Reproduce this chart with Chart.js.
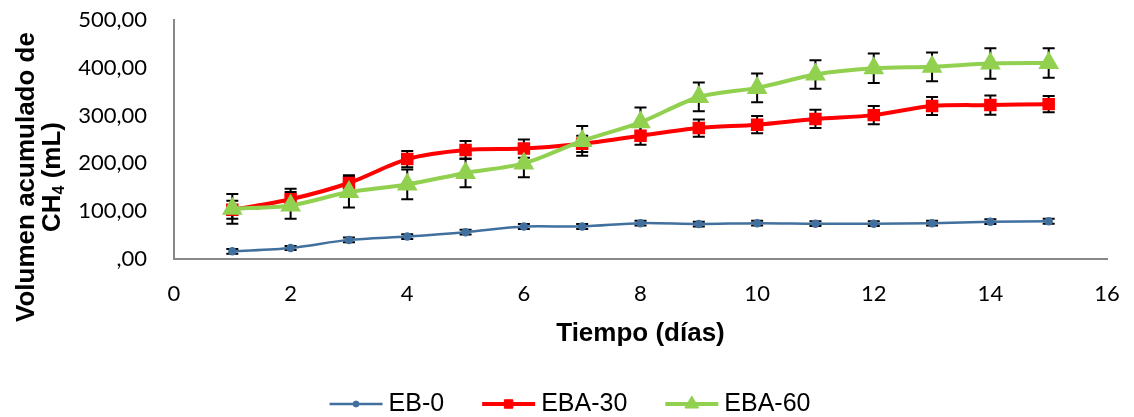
<!DOCTYPE html>
<html>
<head>
<meta charset="utf-8">
<script src="https://cdn.jsdelivr.net/npm/chart.js"></script>
<style>
  html, body { margin: 0; padding: 0; background: #fff; }
  #wrap { width: 1134px; height: 417px; }
</style>
</head>
<body>
<div id="wrap"><canvas id="chart"></canvas></div>
<script>
// data
const days = [1, 2, 3, 4, 5, 6, 7, 8, 9, 10, 11, 12, 13, 14, 15];
const eb0 = [16, 23, 40, 47, 56, 68, 68, 75, 73, 75, 74, 74, 75, 78, 79];
const eb0Err = [5, 4, 5, 5, 5, 5, 5, 5, 5, 5, 5, 5, 5, 5, 5];
const eba30 = [103, 125, 159, 209, 228, 231, 241, 258, 274, 281, 293, 301, 320, 322, 324];
const eba30Err = [19, 22, 16, 17, 19, 19, 17, 19, 18, 18, 19, 19, 19, 20, 17];
const eba60 = [105, 112, 140, 156, 180, 200, 247, 286, 339, 358, 386, 399, 402, 409, 410];
const eba60Err = [31, 28, 32, 31, 30, 29, 31, 31, 30, 30, 30, 31, 30, 32, 31];
const yTickLabels = [',00', '100,00', '200,00', '300,00', '400,00', '500,00'];

const pts = vals => vals.map((v, i) => ({ x: days[i], y: v }));

// error bars, drawn under the lines
const errorBars = {
  id: 'errorBars',
  beforeDatasetsDraw(chart) {
    const { ctx, scales: { x, y } } = chart;
    ctx.save();
    ctx.strokeStyle = '#000';
    ctx.lineWidth = 2;
    chart.data.datasets.forEach(ds => {
      ds.data.forEach((p, j) => {
        const e = ds.errors[j];
        const px = x.getPixelForValue(p.x);
        const top = y.getPixelForValue(p.y + e);
        const bot = y.getPixelForValue(p.y - e);
        ctx.beginPath();
        ctx.moveTo(px, top); ctx.lineTo(px, bot);
        ctx.moveTo(px - 6, top); ctx.lineTo(px + 6, top);
        ctx.moveTo(px - 6, bot); ctx.lineTo(px + 6, bot);
        ctx.stroke();
      });
    });
    ctx.restore();
  }
};

// y title (two lines with subscript) and bottom legend
const extras = {
  id: 'extras',
  afterDraw(chart) {
    const ctx = chart.ctx;
    ctx.save();
    // y axis title
    const big = 'bold 26px "Liberation Sans", Arial, sans-serif';
    const small = 'bold 16px "Liberation Sans", Arial, sans-serif';
    ctx.translate(27, 177);
    ctx.rotate(-Math.PI / 2);
    ctx.fillStyle = '#000';
    ctx.textBaseline = 'middle';
    ctx.textAlign = 'center';
    ctx.font = big;
    ctx.fillText('Volumen acumulado de', 0, 0);
    ctx.textAlign = 'left';
    const w1 = ctx.measureText('CH').width;
    const w3 = ctx.measureText(' (mL)').width;
    ctx.font = small;
    const w2 = ctx.measureText('4').width;
    let sx = -(w1 + w2 + w3) / 2;
    ctx.font = big;
    ctx.fillText('CH', sx, 26);
    ctx.font = small;
    ctx.fillText('4', sx + w1, 33);
    ctx.font = big;
    ctx.fillText(' (mL)', sx + w1 + w2, 26);
    ctx.restore();

    // legend
    ctx.save();
    ctx.font = '25px "Liberation Sans", Arial, sans-serif';
    ctx.textBaseline = 'middle';
    ctx.textAlign = 'left';
    const lineLen = 53, gap = 6, spacing = 38, yc = 404;
    const items = chart.data.datasets.map(ds => ({ ds, w: lineLen + gap + ctx.measureText(ds.label).width }));
    const total = items.reduce((s, it) => s + it.w, 0) + spacing * (items.length - 1);
    let x0 = chart.width / 2 - total / 2 + 3;
    items.forEach(it => {
      const ds = it.ds;
      ctx.strokeStyle = ds.borderColor;
      ctx.lineWidth = ds.borderWidth;
      ctx.beginPath();
      ctx.moveTo(x0, yc); ctx.lineTo(x0 + lineLen, yc);
      ctx.stroke();
      ctx.fillStyle = ds.pointBackgroundColor;
      ctx.strokeStyle = ds.pointBorderColor;
      ctx.lineWidth = 1;
      Chart.helpers.drawPoint(ctx, { pointStyle: ds.pointStyle, rotation: 0, radius: ds.pointRadius, borderWidth: 1 }, x0 + lineLen / 2, yc);
      ctx.fillStyle = '#000';
      ctx.fillText(ds.label, x0 + lineLen + gap, yc);
      x0 += it.w + spacing;
    });
    ctx.restore();
  }
};

const tickFont = { family: 'Lato, "Noto Sans", sans-serif', size: 22 };

new Chart(document.getElementById('chart'), {
  type: 'line',
  data: {
    datasets: [{
      label: 'EB-0',
      data: pts(eb0),
      errors: eb0Err,
      borderColor: '#41709f',
      borderWidth: 2.5,
      pointStyle: 'circle',
      pointRadius: 3,
      pointBackgroundColor: '#41709f',
      pointBorderColor: '#41709f',
      tension: 0.3,
      order: 3
    }, {
      label: 'EBA-30',
      data: pts(eba30),
      errors: eba30Err,
      borderColor: '#ff0000',
      borderWidth: 4,
      pointStyle: 'rect',
      pointRadius: 6,
      pointBackgroundColor: '#ff0000',
      pointBorderColor: '#ff0000',
      tension: 0.3,
      order: 2
    }, {
      label: 'EBA-60',
      data: pts(eba60),
      errors: eba60Err,
      borderColor: '#92d050',
      borderWidth: 4,
      pointStyle: 'triangle',
      pointRadius: 8,
      pointBackgroundColor: '#92d050',
      pointBorderColor: '#92d050',
      tension: 0.3,
      order: 1
    }]
  },
  options: {
    responsive: true,
    maintainAspectRatio: false,
    animation: false,
    layout: { padding: { top: 20, right: 27, bottom: 64, left: 0 } },
    plugins: { legend: { display: false }, tooltip: { enabled: false } },
    scales: {
      x: {
        type: 'linear',
        min: 0, max: 16,
        grid: { display: false, drawTicks: false },
        border: { color: '#888', width: 2 },
        ticks: { stepSize: 2, color: '#000', font: tickFont, padding: 22 },
        title: { display: true, text: 'Tiempo (días)', color: '#000',
                 font: { family: '"Liberation Sans", Arial, sans-serif', size: 26, weight: 'bold' } },
        afterFit(scale) {
          scale.height = 94;
          scale.paddingLeft = 0;
          scale.paddingRight = 0;
        }
      },
      y: {
        min: 0, max: 500,
        grid: { display: false, drawTicks: false },
        border: { color: '#888', width: 2 },
        ticks: { stepSize: 100, color: '#000', font: tickFont, padding: 27,
                 callback: v => yTickLabels[v / 100] },
        afterFit(scale) {
          scale.width = 174;
          scale.paddingTop = 0;
          scale.paddingBottom = 0;
        }
      }
    }
  },
  plugins: [errorBars, extras]
});
</script>
</body>
</html>
